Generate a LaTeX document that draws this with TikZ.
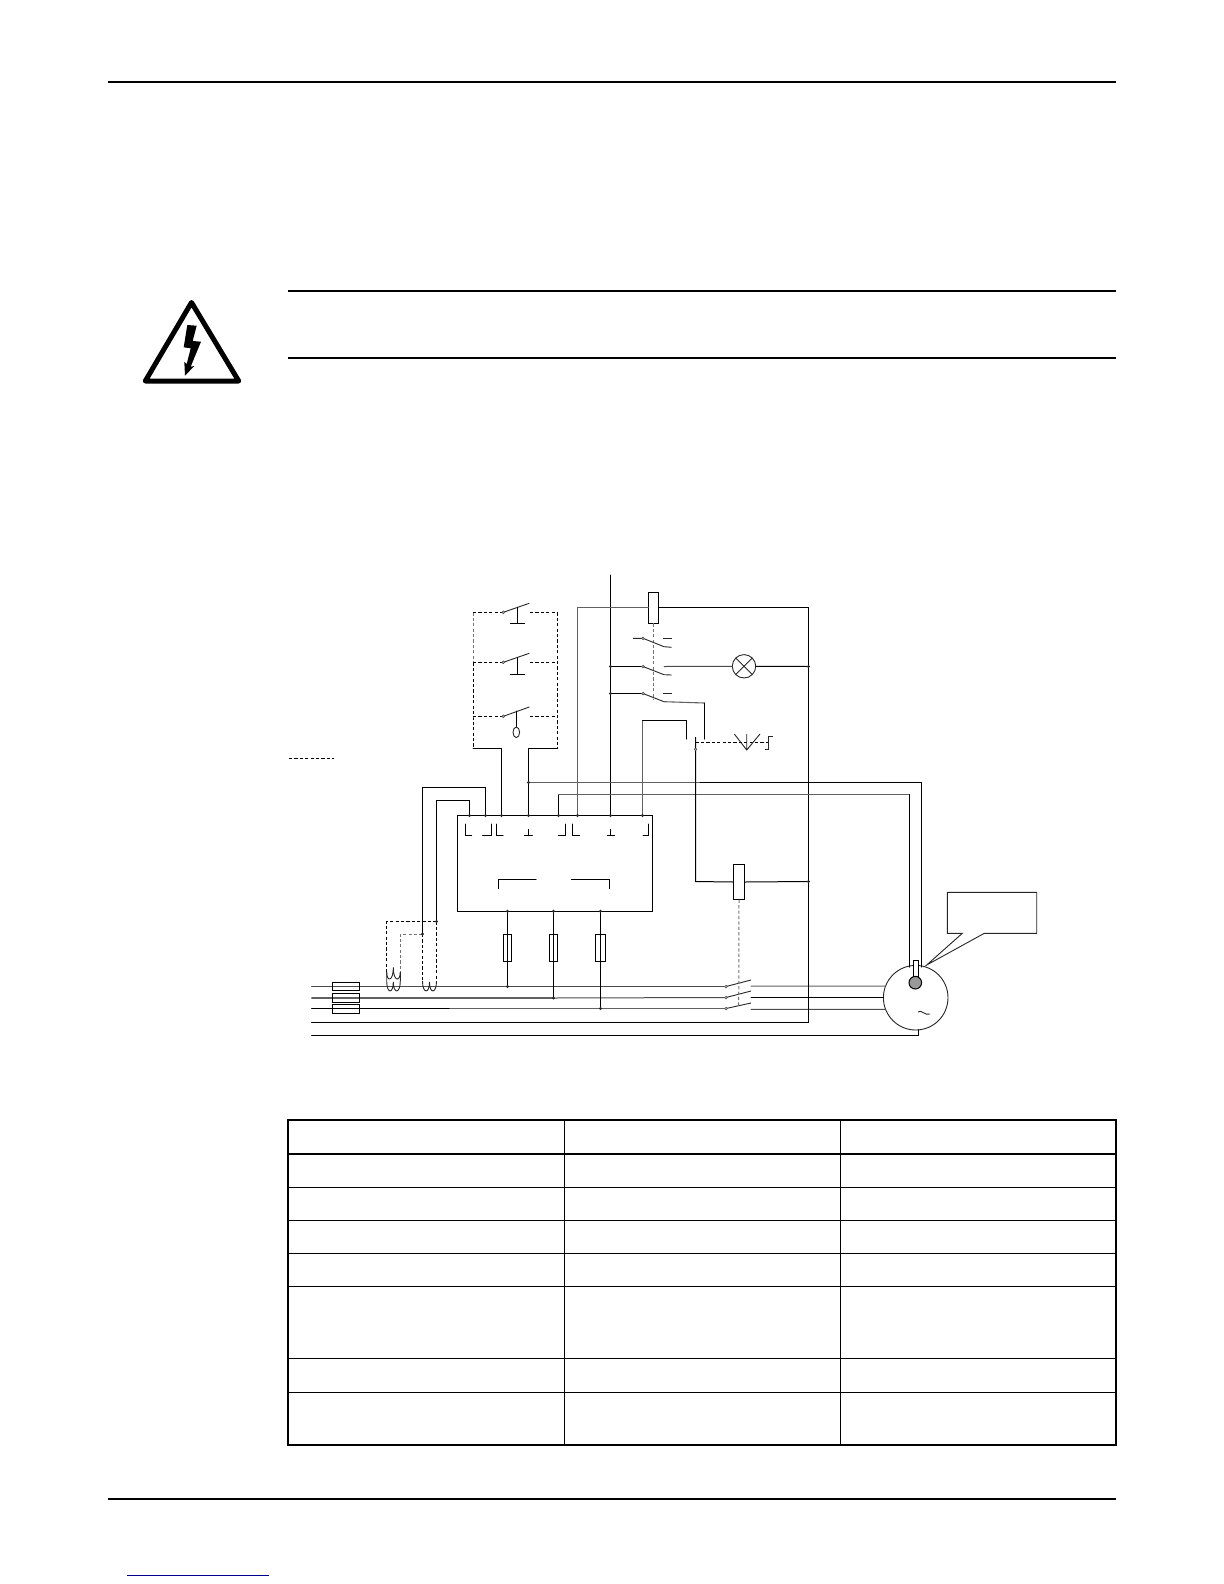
\documentclass[tikz,border=0pt]{standalone}
\usetikzlibrary{calc}
\tikzset{
  wire/.style={line width=0.5pt,black,line cap=round},
  gwire/.style={line width=0.55pt,black!62,line cap=round},
  dwire/.style={line width=0.5pt,black!70,line cap=round},
  ctl/.style={line width=0.5pt,black,dash pattern=on 1.6pt off 1.1pt},
  gctl/.style={line width=0.5pt,black!55,dash pattern=on 1.6pt off 1.1pt},
  thinw/.style={line width=0.45pt,black!85},
  part/.style={draw=black,line width=0.55pt,rectangle,inner sep=0pt,outer sep=0pt},
  round part/.style={draw=black!85,line width=0.45pt,circle,inner sep=0pt,outer sep=0pt},
  jdot/.style={fill=black!85,circle,inner sep=0pt,minimum size=1.6pt},
  cdot/.style={draw=black!70,fill=black!30,line width=0.25pt,circle,inner sep=0pt,minimum size=1.4pt},
  heavy/.style={line width=1pt,black},
  grid/.style={line width=0.5pt,black},
}
\begin{document}
\begin{tikzpicture}[x=0.5pt,y=-0.5pt]
\useasboundingbox (0,0) rectangle (1224,1584);
% page furniture
\draw[heavy] (108,81.8) -- (1116,81.8);
\draw[heavy] (108,1498.7) -- (1116,1498.7);
\draw[heavy] (288,291) -- (1116,291);
\draw[heavy] (288,358) -- (1116,358);
\draw[line width=0.5pt,blue!55!black] (127,1575) -- (269,1575);
% warning sign
\draw[line width=2.5pt,black,line join=round] (191.5,302.5) -- (238.7,381) -- (145.3,381) -- cycle;
\fill[black] (187.3,325) -- (196.7,325.7) -- (192.7,341) -- (201,341.7) -- (190.7,366.7) -- (194.3,366) -- (185,375.7) -- (184.3,361.7) -- (186.7,364) -- (190.7,348.3) -- (183.7,347.3) -- cycle;
% table
\draw[line width=1pt] (288,1120) rectangle (1116,1445);
\draw[line width=1pt] (288,1153.5) -- (1116,1153.5);
\foreach \yy in {1187.5,1220.5,1253.5,1286.5,1358.5,1392.5} \draw[grid] (288,\yy) -- (1116,\yy);
\draw[grid] (564.5,1120) -- (564.5,1445);
\draw[grid] (840.5,1120) -- (840.5,1445);
% main parts
\node[part,minimum width=97.5pt,minimum height=47.9pt] (ctrl) at (554.8,863.4) {};
\node[part,fill=white,minimum width=5pt,minimum height=15.5pt] (K1) at (653.3,607.8) {};
\node[part,fill=white,minimum width=5.7pt,minimum height=17.7pt] (K2) at (739,882) {};
\node[round part,minimum size=11.7pt] (lamp) at (744,666.3) {};
\draw[thinw] (lamp.45) -- (lamp.225) (lamp.135) -- (lamp.315);
\node[round part,minimum size=32.3pt] (motor) at (915.7,997.7) {};
% named points on the control unit
\coordinate (t1) at (469.5,815.5);
\coordinate (t2) at (485.5,815.5);
\coordinate (t3) at (501.5,815.5);
\coordinate (t4) at (528.5,815.5);
\coordinate (t5) at (558.5,815.5);
\coordinate (t6) at (577.5,815.5);
\coordinate (t7) at (610.5,815.5);
\coordinate (t8) at (642.5,815.5);
\coordinate (b1) at (507.5,911.3);
\coordinate (b2) at (553.5,911.3);
\coordinate (b3) at (600.5,911.3);
\coordinate (J1) at (528.5,782.5);
\coordinate (Rtop) at (610.5,575);
\coordinate (R2) at (610.5,666.5);
\coordinate (R3) at (610.5,693.5);
\coordinate (Nr1) at (808.5,666.5);
\coordinate (Nr2) at (808.5,881.5);
\coordinate (CT1) at (422.5,934);
\coordinate (CT2) at (436.5,921.5);
\coordinate (P1) at (507.5,986.5);
\coordinate (P2) at (553.5,998);
\coordinate (P3) at (600.5,1008.5);
% phase lines
\coordinate (L1s) at (311.7,986.5);
\coordinate (L2s) at (311.7,998);
\coordinate (L3s) at (311.7,1008.5);
\coordinate (Ns) at (311.7,1022.5);
\coordinate (PEs) at (311.7,1035.5);
\coordinate (C1) at (726,986.5);
\coordinate (C2) at (726,997.5);
\coordinate (C3) at (726,1008.5);
\coordinate (C1e) at (751,986.1);
\coordinate (C2e) at (751,997.7);
\coordinate (C3e) at (751,1009.3);
\draw[dwire] (L1s) -- (P1) -- (C1);
\draw[gwire] (L2s) -- (P2);
\draw[dwire] (P2) -- (C2);
\draw[wire] (L3s) -- (450,1008.5);
\draw[gwire] (450,1008.5) -- (P3) -- (C3);
\draw[gwire] (C1e) -- (motor.159);
\draw[wire] (C2e) -- (motor.180);
\draw[dwire] (C3e) -- (motor.201);
% N and PE
\draw[wire] (Ns) -- (808.5,1022.5) -- (Nr2) -- (808.5,607.8) -- (K1.east);
\draw[wire] (PEs) -- (918.5,1035.5) -- (918.5,1029.9);
% main contacts
\foreach \a/\b in {C1/{(751,980)},C2/{(751,991)},C3/{(751,1003)}} \draw[thinw] (\a) -- \b;
\foreach \a in {C1,C2,C3} \node[cdot] at (\a) {};
\draw[gctl] (K2.south) -- (738.7,1006);
% fuses
\node[part,line width=0.5pt,minimum width=13.7pt,minimum height=4.2pt] (F1) at (346,986.5) {};
\node[part,line width=0.5pt,minimum width=13.7pt,minimum height=4.5pt] (F2) at (346,998.2) {};
\node[part,line width=0.5pt,minimum width=13.7pt,minimum height=4.7pt] (F3) at (346,1009) {};
\node[part,minimum width=4.2pt,minimum height=13.7pt] (f1) at (507.5,948) {};
\node[part,minimum width=4.2pt,minimum height=13.7pt] (f2) at (553.5,948) {};
\node[part,minimum width=4.7pt,minimum height=13.7pt] (f3) at (600.5,948) {};
\draw[wire] (b1) -- (P1) (b2) -- (P2) (b3) -- (P3);
% marks in the control unit
\draw[wire]
  (465.3,824) -- (465.3,835.7) -- (471.7,835.7)
  (482.7,835.7) -- (491,835.7) -- (491,824)
  (496.3,824) -- (496.3,835.7) -- (503,835.7)
  (528.3,829.3) -- (528.3,835.7) (524.3,835.7) -- (532.3,835.7)
  (558.3,835.7) -- (565,835.7) -- (565,824)
  (572.3,824) -- (572.3,835.7) -- (579.7,835.7)
  (610.7,829.3) -- (610.7,835.7) (607.3,835.7) -- (614.7,835.7)
  (643,835.7) -- (648.7,835.7) -- (648.7,824)
  (498.3,888.7) -- (498.3,879.3) -- (536,879.3)
  (571.3,879.3) -- (609.3,879.3) -- (609.3,888.7);
% wires leaving the unit
\draw[wire] (Rtop) -- (t7);
\draw[wire] (t3) -- (501.5,748.5) -- (473,748.5);
\draw[wire] (t4) -- (J1) -- (528.5,748.5) -- (557.5,748.5);
\draw[gwire] (J1) -- (700,782.5);
\draw[wire] (700,782.5) -- (921.5,782.5) -- (921.5,967);
\draw[wire] (t5) -- (558.5,794.5);
\draw[gwire] (558.5,794.5) -- (909.5,794.5);
\draw[wire] (909.5,794.5) -- (909.5,967);
\draw[gwire] (t6) -- (577.5,607.8) -- (K1.west);
\draw[gwire] (t8) -- (642.5,720.5);
\draw[wire] (642.5,720.5) -- (686.5,720.5) -- (686.5,739);
% current transformer leads
\draw[wire] (t2) -- (485.5,787.5) -- (422.5,787.5) -- (CT1);
\draw[wire] (t1) -- (469.5,800.5) -- (436.5,800.5) -- (CT2);
\draw[ctl] (CT2) -- (386.7,921.5) -- (386.7,972);
\draw[gctl] (CT1) -- (400.3,934) -- (400.3,972);
\draw[ctl] (CT1) -- (422.5,981);
\draw[ctl] (CT2) -- (436.5,981);
\draw[thinw] (386.7,972) -- (386.7,981) .. controls (386.7,994) and (393.3,994) .. (393.3,982) .. controls (393.3,994) and (400.3,994) .. (400.3,981) -- (400.3,972);
\draw[thinw] (386.7,972) .. controls (386.7,982) and (393.3,982) .. (393.3,967.3) .. controls (393.3,982) and (400.3,982) .. (400.3,972);
\draw[thinw] (422.5,981) .. controls (422.5,994) and (429.5,994) .. (429.5,982) .. controls (429.5,994) and (436.5,994) .. (436.5,981);
% pushbutton string
\coordinate (A1) at (473,612.3);
\coordinate (A2) at (473,662.3);
\coordinate (A3) at (473,716.3);
\coordinate (A4) at (473,748.5);
\coordinate (B1) at (557.5,612.3);
\coordinate (B2) at (557.5,662.3);
\coordinate (B3) at (557.5,716.3);
\coordinate (B4) at (557.5,748.5);
\coordinate (S1) at (503.3,612.3);
\coordinate (S2) at (503.3,662.3);
\coordinate (S3) at (503.3,716.3);
\draw[gctl] (A1) -- (A2);
\draw[ctl] (A2) -- (A3) -- (A4);
\draw[ctl] (B1) -- (B2) -- (B3) -- (B4);
\draw[ctl] (A1) -- (S1) (A2) -- (S2) (A3) -- (S3);
\draw[ctl] (530,612.3) -- (B1) (530,662.3) -- (B2) (530,716.3) -- (B3);
\draw[thinw] (S1) -- (529.3,603.3) (S2) -- (529.3,653.3) (S3) -- (529.3,707);
\draw[wire] (517.3,607.5) -- (517.3,623.3) (510.3,623.3) -- (524.7,623.3);
\draw[wire] (517.3,657.5) -- (517.3,674) (510.3,674) -- (524.7,674);
\draw[wire] (516.3,711) -- (516.3,727);
\draw[thinw] (516.3,732.3) ellipse[x radius=3.3,y radius=5.3];
\foreach \a in {S1,S2,S3} \node[cdot] at (\a) {};
% auxiliary contacts
\coordinate (D1) at (643,638.3);
\coordinate (D2) at (643,666.5);
\coordinate (D3) at (643,693.5);
\draw[gctl] (K1.south) ++(0.4,0) -- (653.7,699.3);
\draw[wire] (R2) -- (D2) (R3) -- (D3);
\draw[thinw] (633,638.3) -- (D1) -- (664,646.7) -- (671.7,647.3);
\draw[thinw] (663,638.3) -- (671.7,638.3);
\draw[thinw] (D2) -- (664,674.7) -- (671.7,675);
\draw[dwire] (664,666.5) -- (lamp.west);
\draw[wire] (lamp.east) -- (Nr1);
\draw[thinw] (D3) -- (664,701.7);
\draw[thinw] (663,693.5) -- (671.7,693.5);
\draw[gwire] (664,701.7) -- (704.5,703);
\draw[wire] (704.5,703) -- (704.5,739);
\foreach \a in {D1,D2,D3} \node[cdot] at (\a) {};
% temperature / timer contact
\coordinate (E1) at (695.5,749.3);
\draw[wire] (695.5,737.3) -- (E1) -- (695.5,881.5) -- (K2.west);
\draw[wire] (K2.east) -- (Nr2);
\node[cdot] at (E1) {};
\draw[ctl] (695.5,742.5) -- (768.3,742.5);
\draw[thinw] (734.3,734) -- (746.7,750) -- (760,734) (746.7,734) -- (746.7,750);
\draw[thinw] (772.7,736.7) -- (768.3,736.7) -- (768.3,749.3) -- (765,749.3);
% motor details
\node[part,fill=white,line width=0.5pt,minimum width=2.8pt,minimum height=8.2pt] (RT) at (916,968.5) {};
\draw[black,line width=0.5pt,fill=black!40] (915.3,982.7) circle[radius=6.3];
\draw[thinw] (918,1012) .. controls (921,1009) and (925,1016) .. (930,1014);
% callout
\draw[thinw] (926.7,965) -- (962.3,933.3) -- (947.3,933.3) -- (947.3,892.3) -- (1036.7,892.3) -- (1036.7,933.3) -- (984.3,933.3) -- cycle;
% loose dashed key
\draw[ctl] (289,758.7) -- (334,758.7);
% junction dots
\foreach \a in {t1,t2,t3,t4,t5,t6,t7,t8,b1,b2,b3,J1,R2,R3,Nr1,Nr2,CT1,CT2,P1,P2,P3} \node[jdot] at (\a) {};
\end{tikzpicture}
\end{document}
